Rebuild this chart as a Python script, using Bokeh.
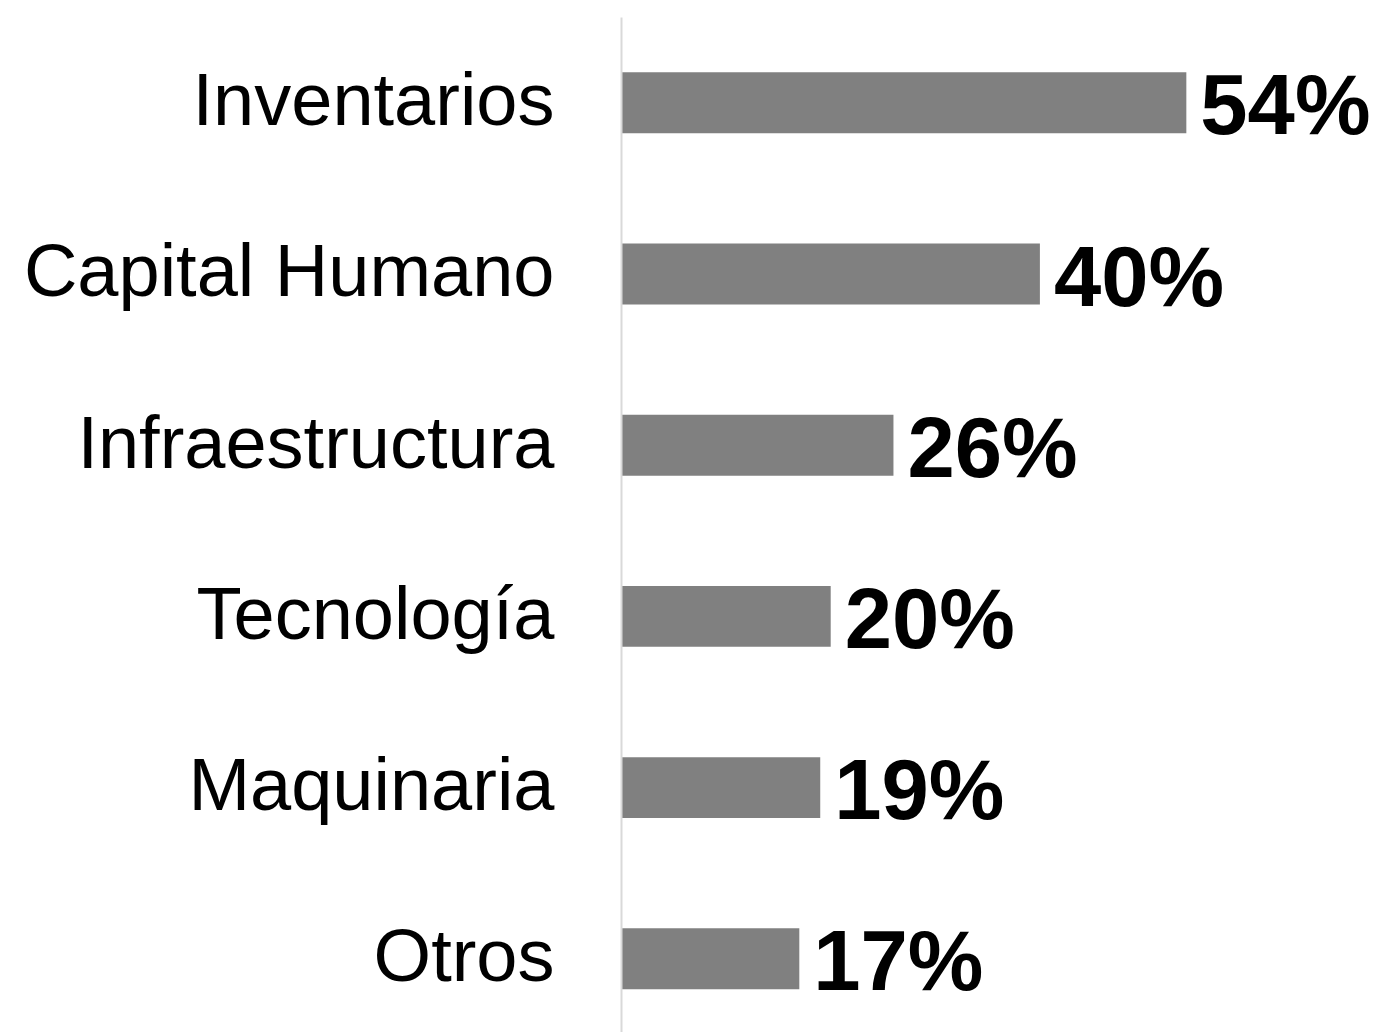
from bokeh.plotting import figure
from bokeh.models import ColumnDataSource, Range1d, FixedTicker
from bokeh.core.properties import value
from bokeh.embed import file_html
from bokeh.resources import INLINE

categories = ["Inventarios", "Capital Humano", "Infraestructura", "Tecnología", "Maquinaria", "Otros"]
values = [54, 40, 26, 20, 19, 17]
value_labels = ["54%", "40%", "26%", "20%", "19%", "17%"]

positions = list(range(len(categories)))
src = ColumnDataSource(dict(y=positions, v=values, lab=value_labels))

H = 1032
p = figure(width=1372, height=H, output_backend="svg", toolbar_location=None,
           x_range=Range1d(0, (1372 - 621) / 10.46),
           y_range=Range1d((H - 102.3) / 171.2, (17 - 102.3) / 171.2),
           x_axis_location=None, min_border_left=621, min_border_top=17,
           min_border_bottom=0, min_border_right=0)
p.outline_line_color = None
p.xgrid.visible = False
p.ygrid.visible = False
p.background_fill_color = "white"

p.hbar(y="y", right="v", left=0, height=0.356, source=src,
       fill_color="#808080", line_color=None)

p.text(x="v", y="y", text="lab", source=src, x_offset=14, y_offset=2,
       text_font=value("Liberation Sans"), text_font_size="85px",
       text_font_style="bold", text_color="black",
       text_align="left", text_baseline="alphabetic")

# category labels sit a few pixels above the bar centres
label_ticks = [i - 0.018 for i in positions]
ax = p.yaxis[0]
ax.ticker = FixedTicker(ticks=label_ticks)
ax.major_label_overrides = {t: c for t, c in zip(label_ticks, categories)}
ax.major_label_text_font = "Liberation Sans"
ax.major_label_text_font_size = "74px"
ax.major_label_text_color = "black"
ax.major_label_standoff = 67
ax.major_tick_out = 0
ax.major_tick_in = 0
ax.minor_tick_out = 0
ax.minor_tick_in = 0
ax.axis_line_color = "#d9d9d9"
ax.axis_line_width = 2

open("out.html", "w").write(file_html(p, INLINE))
